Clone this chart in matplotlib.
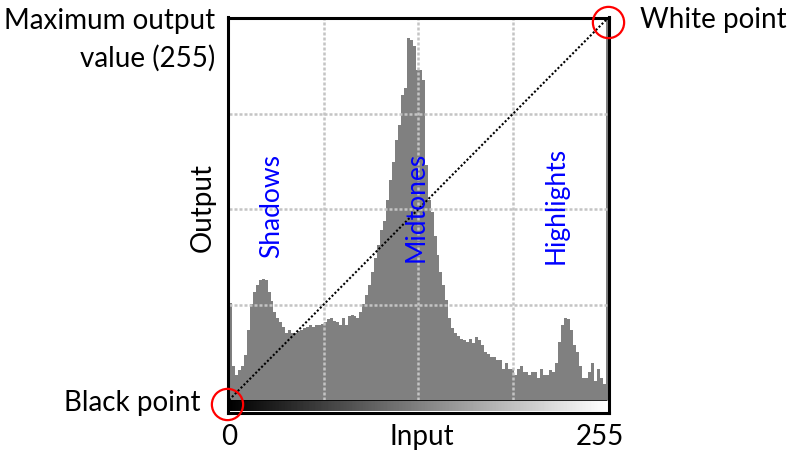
import numpy as np
import matplotlib
matplotlib.use("Agg")
import matplotlib.pyplot as plt
from matplotlib.transforms import ScaledTranslation

# ---- data (0..255 output scale) ----
hist_values = [65, 23, 17, 20, 23, 30, 47, 64, 72, 77, 80, 81, 80, 72, 66, 59,
               55, 52, 49, 45, 47, 45, 45, 46, 47, 48, 49, 50, 49, 50, 50, 51,
               52, 54, 55, 53, 52, 50, 55, 50, 56, 57, 56, 55, 59, 64, 70, 77,
               86, 95, 104, 114, 120, 134, 147, 159, 174, 184, 204, 209, 242, 241, 237, 221,
               221, 214, 157, 134, 126, 110, 97, 86, 77, 67, 55, 48, 45, 43, 41, 40,
               39, 41, 38, 42, 40, 37, 32, 31, 29, 29, 27, 27, 21, 25, 21, 21,
               17, 21, 23, 19, 19, 17, 19, 19, 15, 21, 17, 17, 20, 19, 25, 39,
               50, 55, 54, 47, 37, 32, 23, 15, 15, 19, 25, 13, 21, 15, 11, 255]
bin_width = 2
curve_x = [0, 255]
curve_y = [0, 255]
black_point = (0, 0)
white_point = (255, 255)
zone_labels = ["Shadows", "Midtones", "Highlights"]
zone_x = [29, 126, 221]
zone_y = [130, 129, 130]

W, H = 788, 450
fig = plt.figure(figsize=(W / 100, H / 100), dpi=100)
plt.rcParams['font.family'] = ['Lato', 'DejaVu Sans']

# axes edges in pixels
L, R, T, B = 227.5, 608.5, 17.5, 412.5
ax = fig.add_axes([L / W, 1 - B / H, (R - L) / W, (B - T) / H])
px_x = 378 / 255.0
px_y = 381 / 255.0
ax.set_xlim(0 - 1.5 / px_x, 255 + 1.5 / px_x)
ax.set_ylim(0 - 12.5 / px_y, 255 + 1.5 / px_y)
ax.set_xticks([])
ax.set_yticks([])
for s in ax.spines.values():
    s.set_linewidth(2.2)
    s.set_color('black')

# histogram
xs = np.arange(len(hist_values)) * bin_width
ax.bar(xs, hist_values, width=bin_width, align='edge', color='#808080',
       linewidth=0, zorder=1)

# grid
gpos = np.linspace(0, 255, 5)[1:-1]
ax.vlines(gpos, 0, 255, colors='#c4c4c4', linewidth=1.8,
          linestyles=(0, (1.2, 0.8)), zorder=2)
ax.hlines(gpos, 0, 255, colors='#c4c4c4', linewidth=1.8,
          linestyles=(0, (1.2, 0.8)), zorder=2)

# gradient bar
grad = np.linspace(0, 1, 256).reshape(1, -1)
ax.imshow(grad, cmap='gray', aspect='auto',
          extent=(0, 255, ax.get_ylim()[0] + 1.5 / px_y, 0), zorder=3,
          interpolation='nearest')
ax.hlines(0, 0, 255, colors='black', linewidth=0.6, zorder=3)

# diagonal curve
ax.plot(curve_x, curve_y, color='black', linewidth=1.5,
        linestyle=(0, (1, 1)), zorder=4)

# zone labels
for lab, xc, yc in zip(zone_labels, zone_x, zone_y):
    ax.text(xc, yc, lab, rotation=90, color='#0000ff', fontsize=19,
            ha='center', va='center', zorder=5)

# red circles
off_bl = ScaledTranslation(-2 / 100, -4 / 100, fig.dpi_scale_trans)
off_wp = ScaledTranslation(0.5 / 100, -3 / 100, fig.dpi_scale_trans)
ax.plot([black_point[0]], [black_point[1]], marker='o', markersize=22.5,
        markerfacecolor='none', markeredgecolor='red', markeredgewidth=1.6,
        clip_on=False, zorder=6, transform=ax.transData + off_bl)
ax.plot([white_point[0]], [white_point[1]], marker='o', markersize=22.5,
        markerfacecolor='none', markeredgecolor='red', markeredgewidth=1.6,
        clip_on=False, zorder=6, transform=ax.transData + off_wp)

# outside labels (figure pixel coords)
def ftext(x, y, s, **kw):
    fig.text(x / W, 1 - y / H, s, **kw)

fs = 20
ftext(215, 21, "Maximum output", ha='right', va='center', fontsize=fs)
ftext(215, 58, "value (255)", ha='right', va='center', fontsize=fs)
ftext(640, 20, "White point", ha='left', va='center', fontsize=fs)
ftext(201, 403, "Black point", ha='right', va='center', fontsize=fs)
ftext(229, 437, "0", ha='center', va='center', fontsize=fs)
ftext(600, 437, "255", ha='center', va='center', fontsize=fs)
ftext(422, 437, "Input", ha='center', va='center', fontsize=fs)
ftext(203, 208, "Output", ha='center', va='center', fontsize=fs, rotation=90)

fig.savefig('out.png', dpi=100)
